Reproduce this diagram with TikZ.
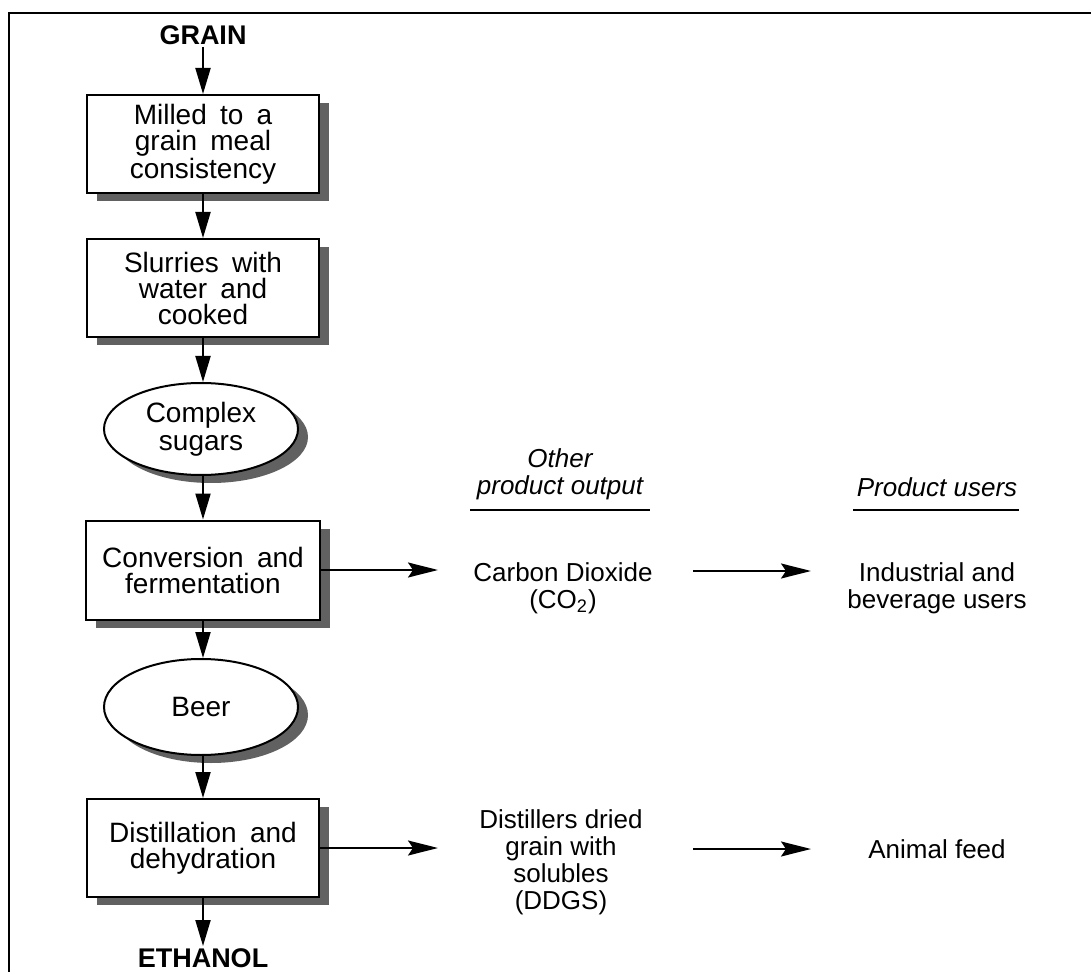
\documentclass[tikz,border=0pt]{standalone}
\usepackage{fontspec}
\setmainfont{Liberation Sans}
\newfontfamily\boxfont{Liberation Sans}[WordSpace=1.7]
\usetikzlibrary{arrows.meta,shadows,shapes.geometric}
\begin{document}
\begin{tikzpicture}[x=0.5pt,y=-0.5pt,
  shad/.style={drop shadow={shadow xshift=5pt,shadow yshift=-4pt,fill=black!62,opacity=1}},
  stepbox/.style={draw,line width=1pt,fill=white,rectangle,align=center,inner sep=0pt,
    font=\boxfont\fontsize{14}{13}\selectfont,minimum width=116pt,minimum height=49pt,shad},
  oval/.style={draw,line width=1pt,fill=white,ellipse,align=center,inner sep=0pt,
    font=\boxfont\fontsize{14}{14}\selectfont,minimum width=97pt,minimum height=46pt,shad},
  endlabel/.style={font=\bfseries\fontsize{13.5}{13.5}\selectfont,inner sep=1pt},
  plain/.style={align=center,inner sep=1pt,font=\fontsize{13}{13.5}\selectfont},
  head/.style={align=center,inner sep=1pt,font=\itshape\fontsize{13}{13.5}\selectfont},
  vflow/.style={line width=1pt,-{Triangle[length=13pt,width=7.5pt]}},
  hflow/.style={line width=1pt,-{Stealth[length=15pt,width=7.5pt,inset=2.5pt]}},
  rule/.style={line width=0.8pt}
]
\useasboundingbox (0,0) rectangle (1091,972);
% frame
\draw[line width=1.3pt] (8,13) -- (1091,13);
\draw[line width=1.3pt] (9,13) -- (9,972);

% main column
\node[endlabel] (grain) at (203,35) {GRAIN};
\node[stepbox] (b1) at (203,144) {Milled to a\\grain meal\\consistency};
\node[stepbox] (b2) at (203,288) {Slurries with\\water and\\cooked};
\node[oval] (e1) at (201,429) {Complex\\sugars};
\node[stepbox,minimum height=49.5pt,minimum width=117pt] (b3) at (203,570) {Conversion and\\fermentation};
\node[oval,minimum height=48pt] (e2) at (201,707) {Beer};
\node[stepbox] (b4) at (203,848) {Distillation and\\dehydration};
\node[endlabel] (eth) at (203,958) {ETHANOL};

\draw[vflow] (grain.south) -- (b1.north);
\draw[vflow] (b1.south) -- (b2.north);
\draw[vflow] (b2.south) -- (b2.south |- e1.north);
\draw[vflow] (b3.north |- e1.south) -- (b3.north);
\draw[vflow] (b3.south) -- (b3.south |- e2.north);
\draw[vflow] (b4.north |- e2.south) -- (b4.north);
\draw[vflow] (b4.south) -- (eth.north);

% headers
\node[head] (h1) at (560,474) {Other\\product output};
\node[head] (h2) at (937,487) {Product users};
\coordinate (u1a) at (470,510); \coordinate (u1b) at (650,510);
\coordinate (u2a) at (853,510); \coordinate (u2b) at (1019,510);
\draw[rule] (u1a) -- (u1b);
\draw[rule] (u2a) -- (u2b);

% outputs
\node[plain] (co2) at (563,588) {Carbon Dioxide\\(CO\textsubscript{2})};
\node[plain] (ind) at (937,588) {Industrial and\\beverage users};
\node[plain] (ddgs) at (561,862) {Distillers dried\\grain with\\solubles\\(DDGS)};
\node[plain] (feed) at (937,849) {Animal feed};

\coordinate (t1) at (438,570);
\coordinate (s2) at (693,571); \coordinate (t2) at (811,571);
\coordinate (t3) at (438,848);
\coordinate (s4) at (693,849); \coordinate (t4) at (811,849);
\draw[hflow] (b3.east) -- (t1);
\draw[hflow] (s2) -- (t2);
\draw[hflow] (b4.east) -- (t3);
\draw[hflow] (s4) -- (t4);
\end{tikzpicture}
\end{document}
